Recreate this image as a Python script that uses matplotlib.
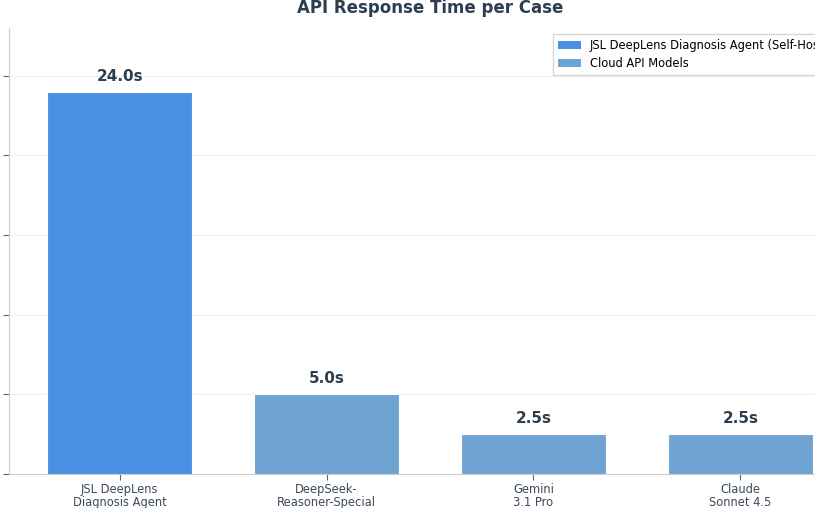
import matplotlib
matplotlib.use("Agg")
import matplotlib.pyplot as plt
from matplotlib.patches import Patch

# data
models = ["JSL DeepLens\nDiagnosis Agent", "DeepSeek-\nReasoner-Special",
          "Gemini\n3.1 Pro", "Claude\nSonnet 4.5"]
resp_time = [24.0, 5.0, 2.5, 2.5]
y_ticks = [0, 5, 10, 15, 20, 25]

jsl_col = "#4A90E2"
cloud_col = "#6FA3D1"
cols = [jsl_col, cloud_col, cloud_col, cloud_col]
txt_col = "#2C3E50"

fig = plt.figure(figsize=(8.15, 5.08), dpi=100)
ax = fig.add_axes([9 / 815, 34 / 508, 842 / 815, 446 / 508])

bars = ax.bar(range(len(models)), resp_time, width=0.7, color=cols,
              edgecolor="white", linewidth=0.8, zorder=3)
for b, v in zip(bars, resp_time):
    ax.text(b.get_x() + b.get_width() / 2, v + 0.5, f"{v:.1f}s",
            ha="center", va="bottom", fontsize=11, fontweight="bold",
            color=txt_col)

ax.set_xticks(range(len(models)))
ax.set_xticklabels(models, fontsize=8.3, color="#3D4A5C")
for t in ax.get_xticklabels():
    t.set_linespacing(0.95)
ax.set_yticks(y_ticks)
ax.set_yticklabels([])
ax.set_ylim(0, 28)
ax.tick_params(axis="y", length=4, color="#5A6478")
ax.tick_params(axis="x", length=4, color="#5A6478", pad=2.5)
ax.grid(axis="y", color="#EEEEEE", linewidth=0.8, zorder=0)
ax.spines["top"].set_visible(False)
ax.spines["right"].set_visible(False)
ax.spines["left"].set_color("#CCCCCC")
ax.spines["bottom"].set_color("#CCCCCC")

ax.set_title("API Response Time per Case", fontsize=12, fontweight="bold",
             color=txt_col, pad=11)

handles = [Patch(facecolor=jsl_col, label="JSL DeepLens Diagnosis Agent (Self-Hosted)"),
           Patch(facecolor=cloud_col, label="Cloud API Models")]
ax.legend(handles=handles, loc="upper right", bbox_to_anchor=(1.004, 1),
          fontsize=8.3, frameon=True, fancybox=False, edgecolor="#CCCCCC",
          labelspacing=0.45, handlelength=2.0, handleheight=0.6,
          borderpad=0.45)

fig.savefig("out.png", dpi=100)
